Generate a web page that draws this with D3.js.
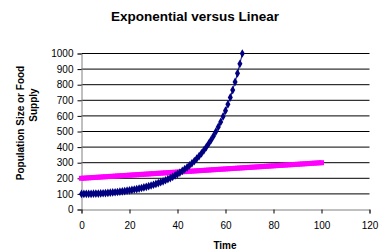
<!DOCTYPE html>
<html>
<head>
<meta charset="utf-8">
<script src="https://cdn.jsdelivr.net/npm/d3@7"></script>
<style>
  body { margin: 0; background: #fff; }
  svg { display: block; font-family: "Liberation Sans", Arial, sans-serif; }
</style>
</head>
<body>
<svg id="chart" width="380" height="252"></svg>
<script>
"use strict";

// population (exponential), one point per time step 0..67
var expValues = [100, 100, 100.2, 100.5, 100.8, 101.3, 101.9, 102.5, 103.3, 104.2,
  105.3, 106.4, 107.7, 109.1, 110.6, 112.2, 114.0, 116.0, 118.1, 120.3,
  122.8, 125.4, 128.2, 131.2, 134.4, 137.8, 141.4, 145.3, 149.5, 153.9,
  158.7, 163.7, 169.1, 174.8, 180.9, 187.5, 194.4, 201.8, 209.7, 218.2,
  227.2, 236.8, 247.1, 258.2, 269.9, 282.6, 296.1, 310.5, 326.0, 342.7,
  360.5, 379.7, 400.3, 422.4, 446.2, 471.9, 499.5, 529.4, 561.5, 596.3,
  633.8, 674.4, 718.3, 765.9, 817.4, 873.3, 934.0, 1000];

// food supply (linear), one point per time step 0..100
var linValues = [200, 201, 202, 203, 204, 205, 206, 207, 208, 209,
  210, 211, 212, 213, 214, 215, 216, 217, 218, 219,
  220, 221, 222, 223, 224, 225, 226, 227, 228, 229,
  230, 231, 232, 233, 234, 235, 236, 237, 238, 239,
  240, 241, 242, 243, 244, 245, 246, 247, 248, 249,
  250, 251, 252, 253, 254, 255, 256, 257, 258, 259,
  260, 261, 262, 263, 264, 265, 266, 267, 268, 269,
  270, 271, 272, 273, 274, 275, 276, 277, 278, 279,
  280, 281, 282, 283, 284, 285, 286, 287, 288, 289,
  290, 291, 292, 293, 294, 295, 296, 297, 298, 299, 300];

var xTicks = [0, 20, 40, 60, 80, 100, 120];
var yTicks = [0, 100, 200, 300, 400, 500, 600, 700, 800, 900, 1000];

var svg = d3.select("#chart");

var x = d3.scaleLinear().domain([0, 120]).range([81.5, 369.5]);
var y = d3.scaleLinear().domain([0, 1000]).range([209.5, 53.5]);

// gridlines
svg.append("g")
  .selectAll("line")
  .data(yTicks.slice(1))
  .enter()
  .append("line")
  .attr("x1", x(0))
  .attr("x2", x(120))
  .attr("y1", function (d) { return y(d); })
  .attr("y2", function (d) { return y(d); })
  .attr("stroke", "#000")
  .attr("stroke-width", 1);

// axes
var yAxis = svg.append("g")
  .attr("transform", "translate(" + x(0) + ",0)")
  .call(d3.axisLeft(y).tickValues(yTicks).tickSize(4).tickPadding(4).tickFormat(d3.format("d")));
var xAxis = svg.append("g")
  .attr("transform", "translate(0," + y(0) + ")")
  .call(d3.axisBottom(x).tickValues(xTicks).tickSize(4).tickPadding(8).tickFormat(d3.format("d")));

[yAxis, xAxis].forEach(function (ax) {
  ax.select(".domain").attr("stroke", "#808080");
  ax.selectAll(".tick line").attr("stroke", "#000");
  ax.selectAll("text")
    .attr("font-family", "Liberation Sans, Arial, sans-serif")
    .attr("font-size", 10)
    .attr("fill", "#000");
});

// series
var seriesLine = d3.line()
  .x(function (d, i) { return x(i); })
  .y(function (d) { return y(d); });

svg.append("path")
  .datum(linValues)
  .attr("d", seriesLine)
  .attr("fill", "none")
  .attr("stroke", "#ff00ff")
  .attr("stroke-width", 1);

svg.append("g")
  .selectAll("path")
  .data(linValues)
  .enter()
  .append("path")
  .attr("d", d3.symbol().type(d3.symbolSquare).size(25))
  .attr("transform", function (d, i) { return "translate(" + x(i) + "," + y(d) + ")"; })
  .attr("fill", "#ff00ff");

svg.append("path")
  .datum(expValues)
  .attr("d", seriesLine)
  .attr("fill", "none")
  .attr("stroke", "#000080")
  .attr("stroke-width", 1);

svg.append("g")
  .selectAll("path")
  .data(expValues)
  .enter()
  .append("path")
  .attr("d", d3.symbol().type(d3.symbolDiamond).size(22))
  .attr("transform", function (d, i) { return "translate(" + x(i) + "," + y(d) + ")"; })
  .attr("fill", "#000080");

// titles
svg.append("text")
  .attr("x", 195)
  .attr("y", 21)
  .attr("text-anchor", "middle")
  .attr("font-size", 13.5)
  .attr("font-weight", "bold")
  .text("Exponential versus Linear");

svg.append("text")
  .attr("x", 225)
  .attr("y", 249)
  .attr("text-anchor", "middle")
  .attr("font-size", 10)
  .attr("font-weight", "bold")
  .text("Time");

svg.append("text")
  .attr("transform", "translate(24,123) rotate(-90)")
  .attr("text-anchor", "middle")
  .attr("font-size", 10)
  .attr("font-weight", "bold")
  .text("Population Size or Food");

svg.append("text")
  .attr("transform", "translate(37,105) rotate(-90)")
  .attr("text-anchor", "middle")
  .attr("font-size", 10)
  .attr("font-weight", "bold")
  .text("Supply");
</script>
</body>
</html>
